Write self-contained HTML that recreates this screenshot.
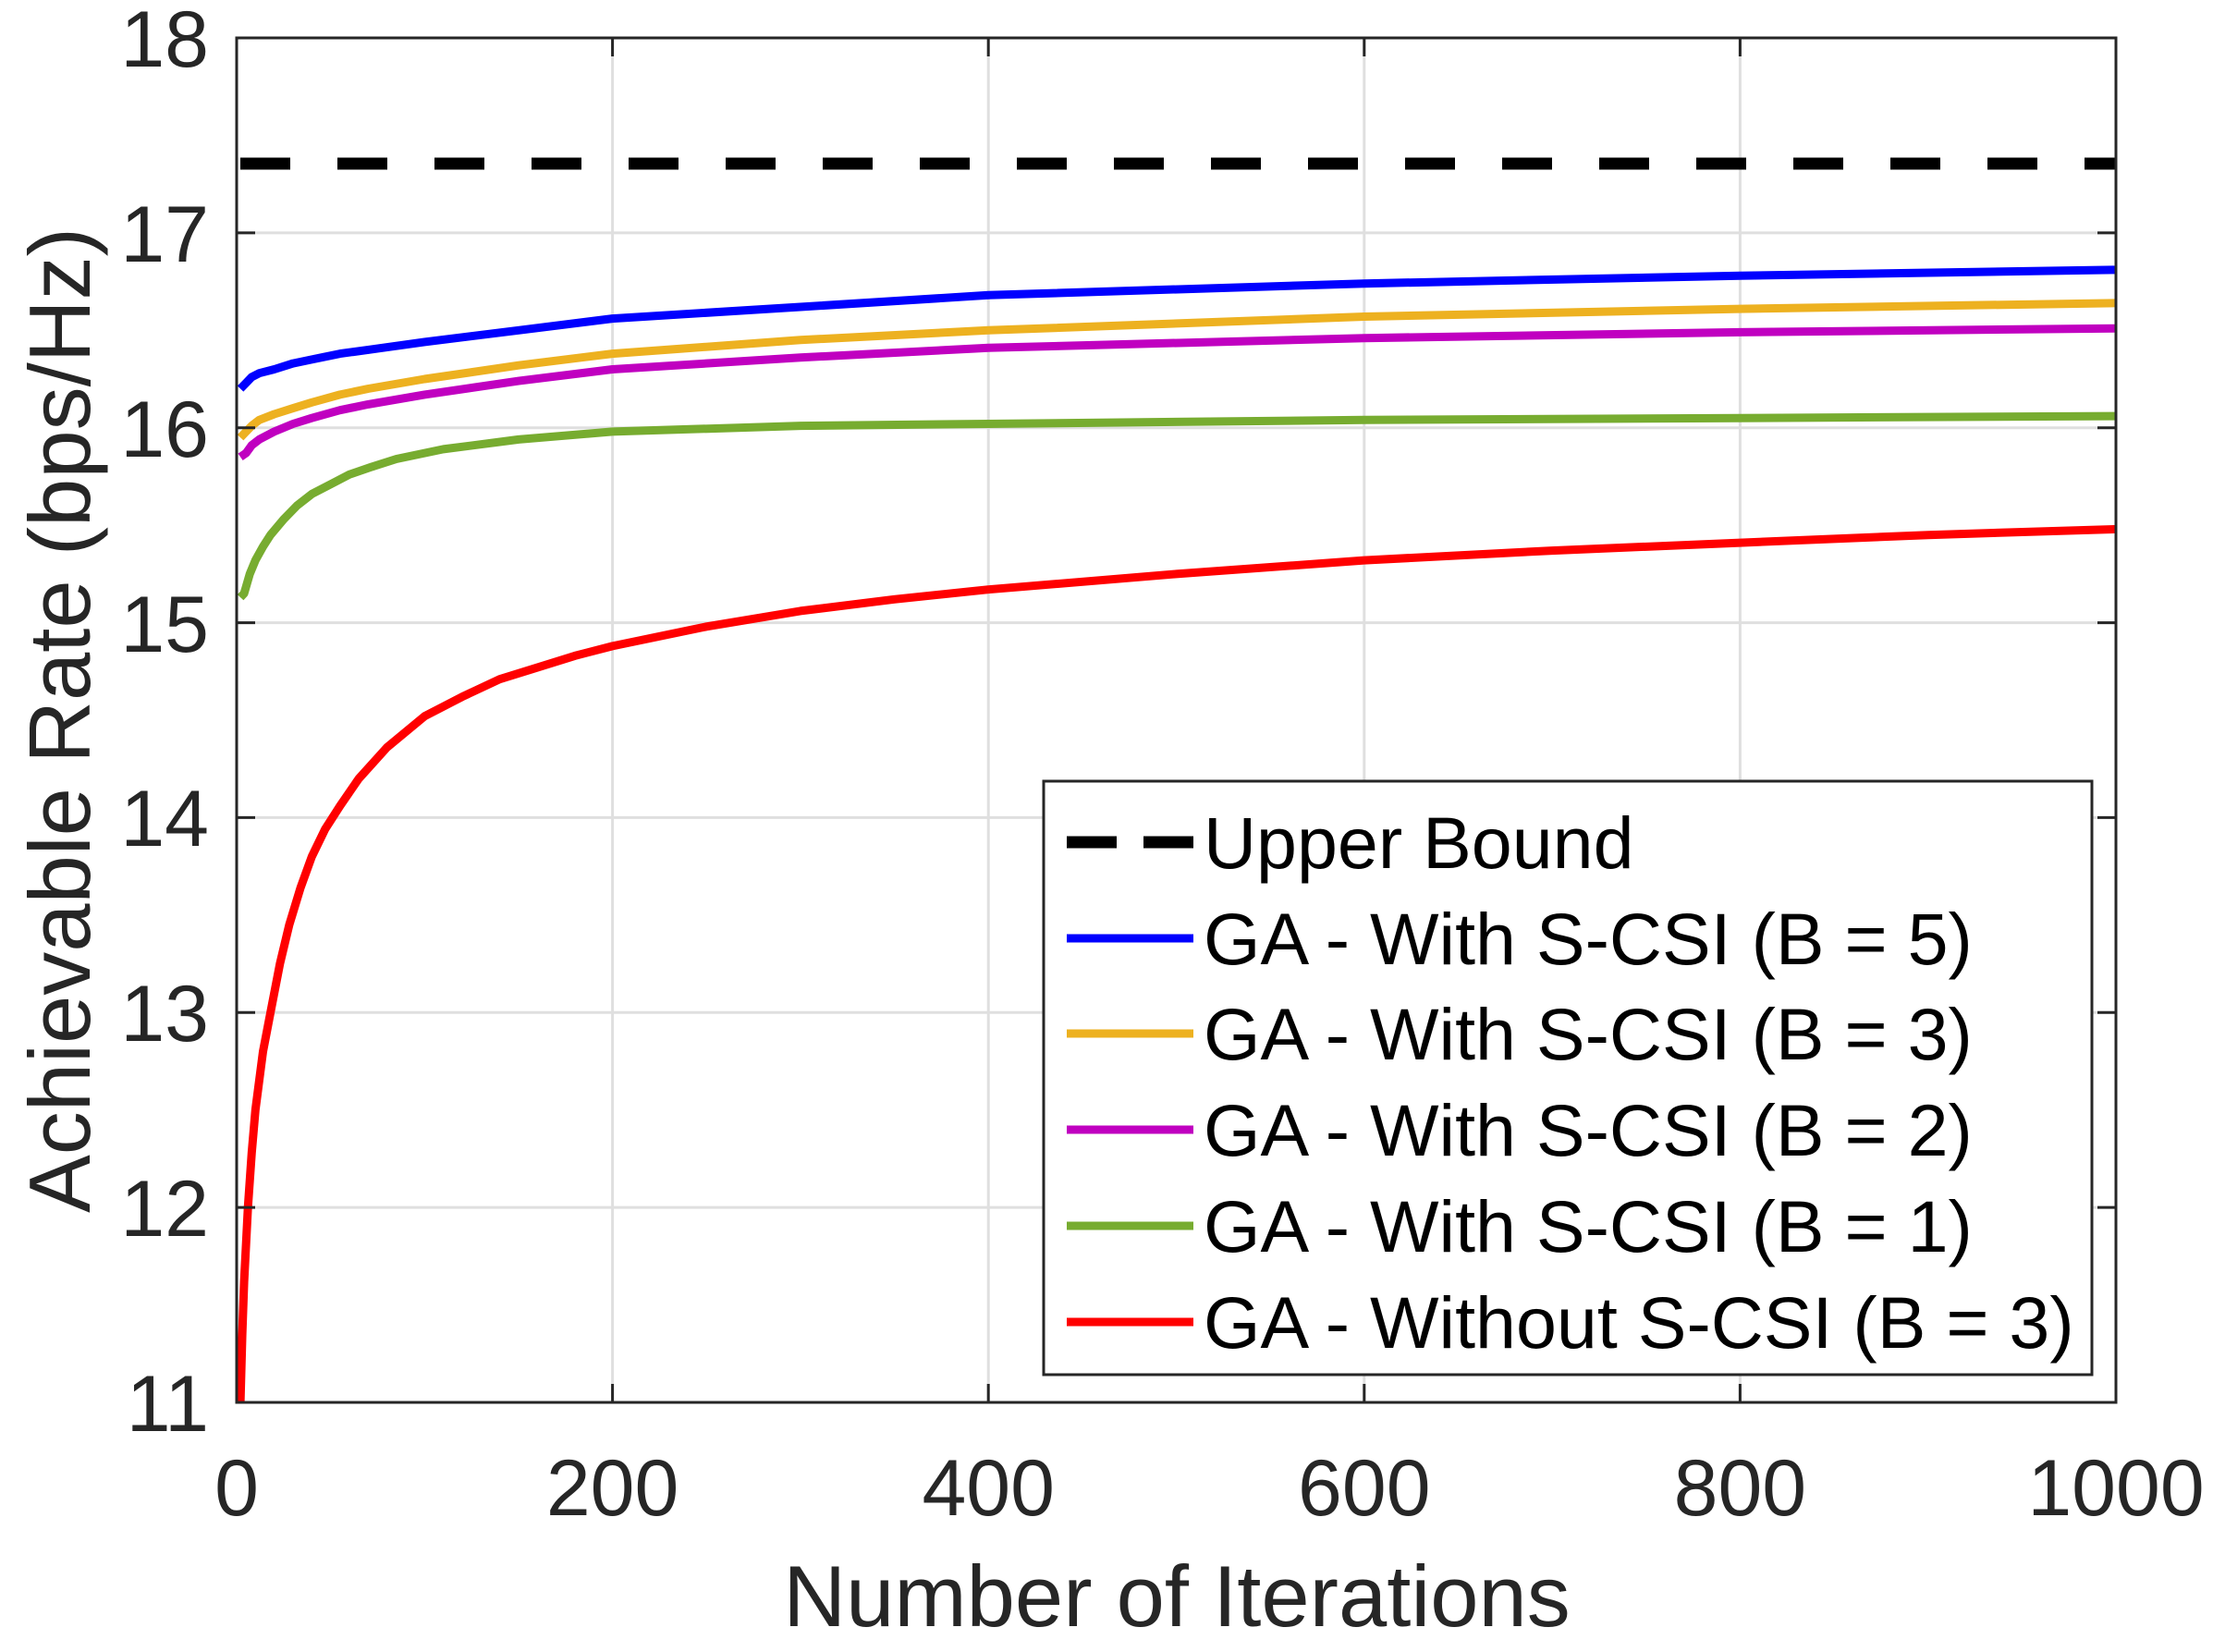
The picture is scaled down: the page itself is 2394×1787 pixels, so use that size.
<!DOCTYPE html>
<html><head><meta charset="utf-8"><style>
html,body{margin:0;padding:0;background:#fff;}
svg{display:block;}
text{font-family:"Liberation Sans",Arial,sans-serif;fill:#262626;}
text.k{fill:#000;}
</style></head><body>
<svg id="s" width="2394" height="1787" viewBox="0 0 2394 1787" xmlns="http://www.w3.org/2000/svg">
<rect width="2394" height="1787" fill="#fff"/>
<g stroke="#dfdfdf" stroke-width="3">
<line x1="662.6" y1="41" x2="662.6" y2="1517"/>
<line x1="1069.2" y1="41" x2="1069.2" y2="1517"/>
<line x1="1475.8" y1="41" x2="1475.8" y2="1517"/>
<line x1="1882.4" y1="41" x2="1882.4" y2="1517"/>
<line x1="256" y1="251.9" x2="2289" y2="251.9"/>
<line x1="256" y1="462.7" x2="2289" y2="462.7"/>
<line x1="256" y1="673.6" x2="2289" y2="673.6"/>
<line x1="256" y1="884.4" x2="2289" y2="884.4"/>
<line x1="256" y1="1095.3" x2="2289" y2="1095.3"/>
<line x1="256" y1="1306.1" x2="2289" y2="1306.1"/>
</g>
<g id="curves" fill="none" stroke-width="9" stroke-linejoin="round" stroke-linecap="butt"></g>
<line x1="260" y1="177" x2="2289" y2="177" stroke="#000" stroke-width="13" stroke-dasharray="54 51"/>
<g stroke="#262626" stroke-width="3">
<rect x="256" y="41" width="2033" height="1476" fill="none"/>
<g id="ticks"></g>
</g>
<g font-size="86" text-anchor="end">
<text x="226" y="72">18</text>
<text x="226" y="283">17</text>
<text x="226" y="494">16</text>
<text x="226" y="705">15</text>
<text x="226" y="915">14</text>
<text x="226" y="1126">13</text>
<text x="226" y="1337">12</text>
<text x="226" y="1548">11</text>
</g>
<g font-size="86" text-anchor="middle">
<text x="256" y="1639">0</text>
<text x="662.6" y="1639">200</text>
<text x="1069.2" y="1639">400</text>
<text x="1475.8" y="1639">600</text>
<text x="1882.4" y="1639">800</text>
<text x="2289" y="1639">1000</text>
</g>
<text x="1273" y="1759" font-size="94" text-anchor="middle">Number of Iterations</text>
<text transform="translate(97,779) rotate(-90)" font-size="94" text-anchor="middle">Achievable Rate (bps/Hz)</text>
<rect x="1129" y="845" width="1134" height="642" fill="#fff" stroke="#262626" stroke-width="3"/>
<line x1="1154" y1="911" x2="1291" y2="911" stroke="#000" stroke-width="13" stroke-dasharray="54 29"/>
<line x1="1154" y1="1015" x2="1291" y2="1015" stroke="#0000ff" stroke-width="9"/>
<line x1="1154" y1="1118" x2="1291" y2="1118" stroke="#edb120" stroke-width="9"/>
<line x1="1154" y1="1222" x2="1291" y2="1222" stroke="#c000c0" stroke-width="9"/>
<line x1="1154" y1="1326" x2="1291" y2="1326" stroke="#77ac30" stroke-width="9"/>
<line x1="1154" y1="1430" x2="1291" y2="1430" stroke="#ff0000" stroke-width="9"/>
<g font-size="79">
<text class="k" x="1302" y="939" style="fill:#000">Upper Bound</text>
<text class="k" x="1302" y="1043" style="fill:#000">GA - With S-CSI (B = 5)</text>
<text class="k" x="1302" y="1146" style="fill:#000">GA - With S-CSI (B = 3)</text>
<text class="k" x="1302" y="1250" style="fill:#000">GA - With S-CSI (B = 2)</text>
<text class="k" x="1302" y="1354" style="fill:#000">GA - With S-CSI (B = 1)</text>
<text class="k" x="1302" y="1458" style="fill:#000">GA - Without S-CSI (B = 3)</text>
</g>
</svg>
<script>
(function(){
var X=function(i){return 256+i*2.033;},Y=function(v){return 41+(18-v)*210.857;};
var tk=document.getElementById('ticks'),h='';
[0,200,400,600,800,1000].forEach(function(i){var x=X(i);h+='<line x1="'+x+'" y1="1517" x2="'+x+'" y2="1497"/><line x1="'+x+'" y1="41" x2="'+x+'" y2="61"/>';});
[11,12,13,14,15,16,17,18].forEach(function(v){var y=Y(v);h+='<line x1="256" y1="'+y+'" x2="276" y2="'+y+'"/><line x1="2289" y1="'+y+'" x2="2269" y2="'+y+'"/>';});
tk.innerHTML=h;
var S=[
['#ff0000',[[2,11],[3,11.35],[4,11.62],[6,12],[8,12.28],[10,12.5],[14,12.8],[18,13],[23,13.25],[28,13.45],[34,13.64],[40,13.8],[47,13.94],[55,14.06],[65,14.2],[80,14.36],[100,14.52],[120,14.62],[140,14.71],[160,14.77],[180,14.83],[200,14.88],[250,14.98],[300,15.06],[350,15.12],[400,15.17],[500,15.25],[600,15.32],[700,15.37],[800,15.41],[900,15.45],[1000,15.48]]],
['#77ac30',[[2,15.13],[4,15.15],[7,15.25],[10,15.32],[14,15.39],[18,15.45],[25,15.53],[32,15.6],[40,15.66],[50,15.71],[60,15.76],[72,15.8],[85,15.84],[110,15.89],[150,15.94],[200,15.98],[300,16.01],[400,16.02],[600,16.04],[800,16.05],[1000,16.06]]],
['#c000c0',[[2,15.85],[5,15.87],[8,15.91],[12,15.94],[20,15.98],[30,16.02],[40,16.05],[55,16.09],[70,16.12],[100,16.17],[150,16.24],[200,16.3],[300,16.36],[400,16.41],[600,16.46],[800,16.49],[1000,16.51]]],
['#edb120',[[2,15.95],[5,15.98],[8,16.01],[12,16.04],[20,16.07],[30,16.1],[40,16.13],[55,16.17],[70,16.2],[100,16.25],[150,16.32],[200,16.38],[300,16.45],[400,16.5],[600,16.57],[800,16.61],[1000,16.64]]],
['#0000ff',[[2,16.2],[5,16.23],[8,16.26],[12,16.28],[20,16.3],[30,16.33],[40,16.35],[55,16.38],[70,16.4],[100,16.44],[150,16.5],[200,16.56],[300,16.62],[400,16.68],[600,16.74],[800,16.78],[1000,16.81]]]
];
var g=document.getElementById('curves'),o='';
S.forEach(function(s){var p=s[1].map(function(q){return X(q[0]).toFixed(1)+','+Y(q[1]).toFixed(1);}).join(' ');
o+='<polyline stroke="'+s[0]+'" points="'+p+'"/>';});
g.innerHTML=o;
})();
</script>
</body></html>
